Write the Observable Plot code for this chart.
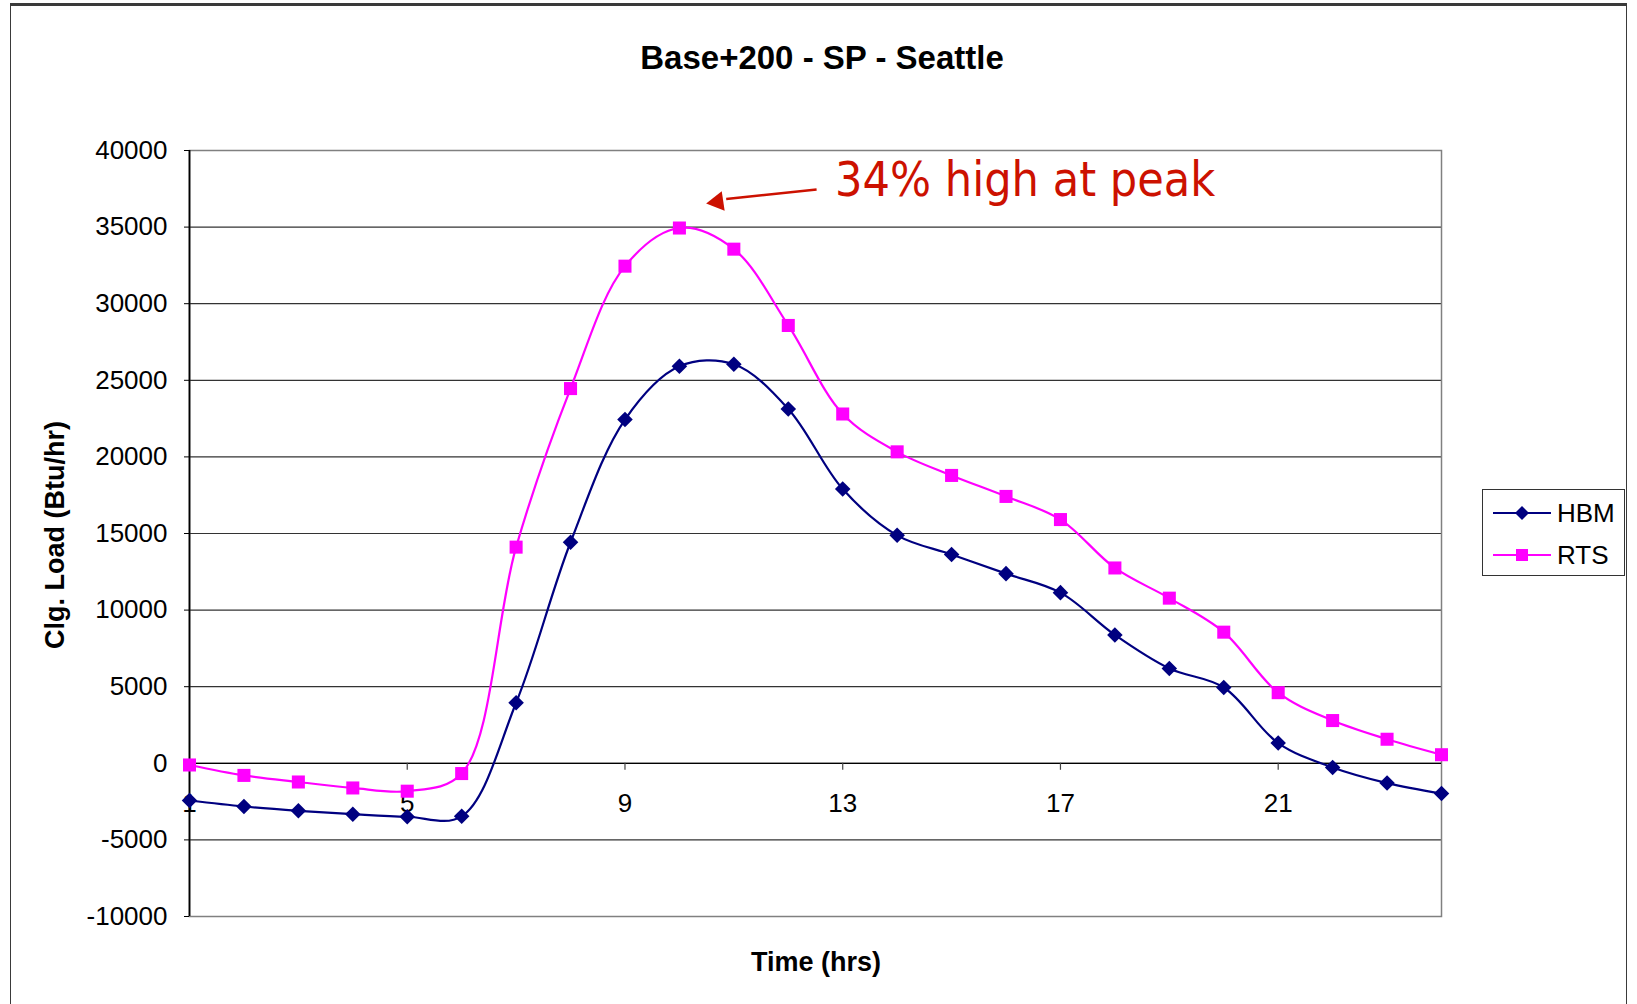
<!DOCTYPE html>
<html>
<head>
<meta charset="utf-8">
<script src="https://cdn.jsdelivr.net/npm/d3@7"></script>
<script src="https://cdn.jsdelivr.net/npm/@observablehq/plot@0.6"></script>
<style>
  html, body { margin: 0; padding: 0; background: #fff; }
  #wrap { position: relative; width: 1637px; height: 1004px; overflow: hidden; font-family: "Liberation Sans", Arial, sans-serif; color: #000; }
  #outer { position: absolute; left: 10px; top: 3px; width: 1617px; height: 1100px; border-top: 3px solid #3a3a3a; border-left: 1.5px solid #3a3a3a; border-right: 1.5px solid #3a3a3a; box-sizing: border-box; pointer-events: none; }
  .lbl { position: absolute; font-weight: bold; white-space: nowrap; line-height: 1; }
  #title { left: 822px; top: 57px; font-size: 33px; transform: translate(-50%, -50%); }
  #ylabel { left: 55px; top: 535px; font-size: 27px; transform: translate(-50%, -50%) rotate(-90deg); }
  #xlabel { left: 816px; top: 962px; font-size: 27px; transform: translate(-50%, -50%); }
  #legend { position: absolute; left: 1482px; top: 489px; width: 143px; height: 87px; border: 1.5px solid #333; box-sizing: border-box; background: #fff; }
  .row { position: absolute; left: 10px; height: 30px; display: flex; align-items: center; font-size: 26px; }
  .row svg { margin-right: 6px; }
</style>
</head>
<body>
<div id="wrap">
  <div id="chart"></div>
  <div id="outer"></div>
  <div id="title" class="lbl">Base+200 - SP - Seattle</div>
  <div id="ylabel" class="lbl">Clg. Load (Btu/hr)</div>
  <div id="xlabel" class="lbl">Time (hrs)</div>
  <div id="legend"></div>
</div>
<script>
// ---- data ----
const hours = [1,2,3,4,5,6,7,8,9,10,11,12,13,14,15,16,17,18,19,20,21,22,23,24];
const hbm = [-2430,-2820,-3100,-3320,-3490,-3460,3950,14430,22440,25920,26050,23130,17900,14880,13630,12380,11140,8380,6190,4950,1320,-270,-1290,-1970];
const rts = [-110,-790,-1220,-1610,-1820,-670,14110,24460,32450,34940,33560,28580,22800,20330,18790,17420,15910,12750,10780,8560,4610,2790,1570,560];
const seriesNames = ["HBM", "RTS"];
const seriesColors = ["#000080", "#FF00FF"];
const yTicks = [-10000,-5000,0,5000,10000,15000,20000,25000,30000,35000,40000];
const xTicks = [1,5,9,13,17,21];
const noteText = ["34% high at peak"];
const noteAt = [{hour: 12.86, value: 38050}];
const arrowFrom = [{hour: 12.52, value: 37450}];
const arrowTo = [{hour: 10.86, value: 36830}];
const arrowHead = [{hour: 10.70, value: 36650}];

const data = [];
hours.forEach((h, i) => {
  data.push({series: "HBM", hour: h, value: hbm[i]});
  data.push({series: "RTS", hour: h, value: rts[i]});
});
const hbmData = data.filter(d => d.series === "HBM");
const rtsData = data.filter(d => d.series === "RTS");
const arrowSeg = [{x1: arrowFrom[0].hour, y1: arrowFrom[0].value, x2: arrowTo[0].hour, y2: arrowTo[0].value}];

const chart = Plot.plot({
  width: 1637,
  height: 1004,
  marginLeft: 189,
  marginRight: 196,
  marginTop: 150,
  marginBottom: 88,
  style: {fontFamily: "'Liberation Sans', Arial, sans-serif", fontSize: "26px", color: "#000", background: "transparent", overflow: "visible"},
  x: {domain: [1, 24], axis: null},
  y: {domain: [-10000, 40000], axis: null},
  color: {domain: seriesNames, range: seriesColors},
  marks: [
    Plot.ruleY(yTicks, {stroke: "#333", strokeWidth: 1.2}),
    Plot.frame({stroke: "#808080", strokeWidth: 1.5}),
    Plot.ruleY([0], {stroke: "#000", strokeWidth: 1.3}),
    Plot.ruleX([1], {stroke: "#000", strokeWidth: 1.8}),
    Plot.ruleX(xTicks, {x: d => d, y1: 0, y2: 0, insetBottom: -7, stroke: "#444", strokeWidth: 1.2}),
    Plot.text(xTicks, {x: d => d, y: 0, dy: 40, text: d => String(d), fontSize: 26, lineAnchor: "middle", fill: "#000"}),
    Plot.axisY({ticks: yTicks, tickFormat: d => String(d), tickSize: 5, tickPadding: 17, fontSize: 26, label: null, stroke: "#000"}),
    Plot.line(data, {x: "hour", y: "value", stroke: "series", z: "series", curve: "catmull-rom", strokeWidth: 2.2}),
    Plot.dot(hbmData, {x: "hour", y: "value", symbol: "diamond2", r: 7, fill: "#000080", stroke: "none"}),
    Plot.dot(rtsData, {x: "hour", y: "value", symbol: "square2", r: 8.3, fill: "#FF00FF", stroke: "none"}),
    Plot.link(arrowSeg, {x1: "x1", y1: "y1", x2: "x2", y2: "y2", stroke: "#CC1100", strokeWidth: 2.5}),
    Plot.dot(arrowHead, {x: "hour", y: "value", symbol: "triangle2", r: 9.5, fill: "#CC1100", stroke: "none", rotate: 261.6}),
    Plot.text(noteAt, {x: "hour", y: "value", text: (d, i) => noteText[i], textAnchor: "start", lineAnchor: "middle", fontSize: 48, fontFamily: "'DejaVu Sans Condensed', 'DejaVu Sans', sans-serif", fill: "#CC1100"})
  ]
});
document.getElementById("chart").appendChild(chart);

// legend
const legend = document.getElementById("legend");
const legendTops = [8, 50];
seriesNames.forEach((name, i) => {
  const row = document.createElement("div");
  row.className = "row";
  row.style.top = legendTops[i] + "px";
  const ns = "http://www.w3.org/2000/svg";
  const svg = document.createElementNS(ns, "svg");
  svg.setAttribute("width", 58); svg.setAttribute("height", 20);
  const ln = document.createElementNS(ns, "line");
  ln.setAttribute("x1", 0); ln.setAttribute("x2", 58); ln.setAttribute("y1", 10); ln.setAttribute("y2", 10);
  ln.setAttribute("stroke", seriesColors[i]); ln.setAttribute("stroke-width", 2);
  svg.appendChild(ln);
  const mk = document.createElementNS(ns, "path");
  mk.setAttribute("d", i === 0 ? "M29,3L36,10L29,17L22,10Z" : "M23,4H35V16H23Z");
  mk.setAttribute("fill", seriesColors[i]);
  svg.appendChild(mk);
  row.appendChild(svg);
  const t = document.createElement("span");
  t.textContent = name;
  row.appendChild(t);
  legend.appendChild(row);
});
</script>
</body>
</html>
